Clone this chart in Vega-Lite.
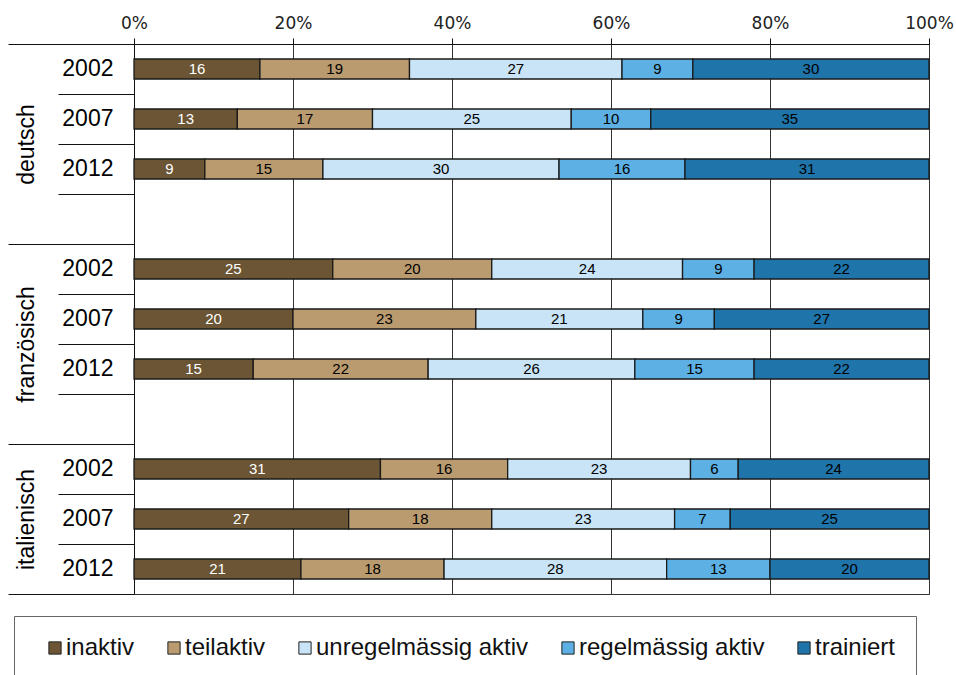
{
  "$schema": "https://vega.github.io/schema/vega-lite/v6.json",
  "width": 795,
  "height": 550,
  "autosize": {"type": "none"},
  "padding": {"left": 134, "top": 44, "right": 27, "bottom": 81},
  "background": "white",
  "config": {
    "view": {"stroke": "#333", "strokeWidth": 1},
    "font": "Liberation Sans"
  },
  "data": {
    "values": [
      {"sprachregion": "deutsch", "jahr": "2002", "kategorie": "inaktiv", "wert": 16},
      {"sprachregion": "deutsch", "jahr": "2002", "kategorie": "teilaktiv", "wert": 19},
      {"sprachregion": "deutsch", "jahr": "2002", "kategorie": "unregelmässig aktiv", "wert": 27},
      {"sprachregion": "deutsch", "jahr": "2002", "kategorie": "regelmässig aktiv", "wert": 9},
      {"sprachregion": "deutsch", "jahr": "2002", "kategorie": "trainiert", "wert": 30},
      {"sprachregion": "deutsch", "jahr": "2007", "kategorie": "inaktiv", "wert": 13},
      {"sprachregion": "deutsch", "jahr": "2007", "kategorie": "teilaktiv", "wert": 17},
      {"sprachregion": "deutsch", "jahr": "2007", "kategorie": "unregelmässig aktiv", "wert": 25},
      {"sprachregion": "deutsch", "jahr": "2007", "kategorie": "regelmässig aktiv", "wert": 10},
      {"sprachregion": "deutsch", "jahr": "2007", "kategorie": "trainiert", "wert": 35},
      {"sprachregion": "deutsch", "jahr": "2012", "kategorie": "inaktiv", "wert": 9},
      {"sprachregion": "deutsch", "jahr": "2012", "kategorie": "teilaktiv", "wert": 15},
      {"sprachregion": "deutsch", "jahr": "2012", "kategorie": "unregelmässig aktiv", "wert": 30},
      {"sprachregion": "deutsch", "jahr": "2012", "kategorie": "regelmässig aktiv", "wert": 16},
      {"sprachregion": "deutsch", "jahr": "2012", "kategorie": "trainiert", "wert": 31},
      {"sprachregion": "französisch", "jahr": "2002", "kategorie": "inaktiv", "wert": 25},
      {"sprachregion": "französisch", "jahr": "2002", "kategorie": "teilaktiv", "wert": 20},
      {"sprachregion": "französisch", "jahr": "2002", "kategorie": "unregelmässig aktiv", "wert": 24},
      {"sprachregion": "französisch", "jahr": "2002", "kategorie": "regelmässig aktiv", "wert": 9},
      {"sprachregion": "französisch", "jahr": "2002", "kategorie": "trainiert", "wert": 22},
      {"sprachregion": "französisch", "jahr": "2007", "kategorie": "inaktiv", "wert": 20},
      {"sprachregion": "französisch", "jahr": "2007", "kategorie": "teilaktiv", "wert": 23},
      {"sprachregion": "französisch", "jahr": "2007", "kategorie": "unregelmässig aktiv", "wert": 21},
      {"sprachregion": "französisch", "jahr": "2007", "kategorie": "regelmässig aktiv", "wert": 9},
      {"sprachregion": "französisch", "jahr": "2007", "kategorie": "trainiert", "wert": 27},
      {"sprachregion": "französisch", "jahr": "2012", "kategorie": "inaktiv", "wert": 15},
      {"sprachregion": "französisch", "jahr": "2012", "kategorie": "teilaktiv", "wert": 22},
      {"sprachregion": "französisch", "jahr": "2012", "kategorie": "unregelmässig aktiv", "wert": 26},
      {"sprachregion": "französisch", "jahr": "2012", "kategorie": "regelmässig aktiv", "wert": 15},
      {"sprachregion": "französisch", "jahr": "2012", "kategorie": "trainiert", "wert": 22},
      {"sprachregion": "italienisch", "jahr": "2002", "kategorie": "inaktiv", "wert": 31},
      {"sprachregion": "italienisch", "jahr": "2002", "kategorie": "teilaktiv", "wert": 16},
      {"sprachregion": "italienisch", "jahr": "2002", "kategorie": "unregelmässig aktiv", "wert": 23},
      {"sprachregion": "italienisch", "jahr": "2002", "kategorie": "regelmässig aktiv", "wert": 6},
      {"sprachregion": "italienisch", "jahr": "2002", "kategorie": "trainiert", "wert": 24},
      {"sprachregion": "italienisch", "jahr": "2007", "kategorie": "inaktiv", "wert": 27},
      {"sprachregion": "italienisch", "jahr": "2007", "kategorie": "teilaktiv", "wert": 18},
      {"sprachregion": "italienisch", "jahr": "2007", "kategorie": "unregelmässig aktiv", "wert": 23},
      {"sprachregion": "italienisch", "jahr": "2007", "kategorie": "regelmässig aktiv", "wert": 7},
      {"sprachregion": "italienisch", "jahr": "2007", "kategorie": "trainiert", "wert": 25},
      {"sprachregion": "italienisch", "jahr": "2012", "kategorie": "inaktiv", "wert": 21},
      {"sprachregion": "italienisch", "jahr": "2012", "kategorie": "teilaktiv", "wert": 18},
      {"sprachregion": "italienisch", "jahr": "2012", "kategorie": "unregelmässig aktiv", "wert": 28},
      {"sprachregion": "italienisch", "jahr": "2012", "kategorie": "regelmässig aktiv", "wert": 13},
      {"sprachregion": "italienisch", "jahr": "2012", "kategorie": "trainiert", "wert": 20}
    ]
  },
  "transform": [
    {"calculate": "datum.sprachregion + ' ' + datum.jahr", "as": "zeile"},
    {"calculate": "indexof(['inaktiv', 'teilaktiv', 'unregelmässig aktiv', 'regelmässig aktiv', 'trainiert'], datum.kategorie)", "as": "rang"},
    {"stack": "wert", "groupby": ["zeile"], "sort": [{"field": "rang", "order": "ascending"}], "offset": "normalize", "as": ["x0", "x1"]},
    {"calculate": "(datum.x0 + datum.x1) / 2", "as": "xm"}
  ],
  "layer": [
    {
      "layer": [
        {
          "mark": {"type": "bar", "size": 20, "stroke": "#1a1a1a", "strokeWidth": 1.3},
          "encoding": {
            "y": {
              "field": "zeile",
              "type": "nominal",
              "scale": {
                "type": "band",
                "padding": 0,
                "domain": ["deutsch 2002", "deutsch 2007", "deutsch 2012", "deutsch -",
                           "französisch 2002", "französisch 2007", "französisch 2012", "französisch -",
                           "italienisch 2002", "italienisch 2007", "italienisch 2012"]
              },
              "axis": {
                "orient": "left",
                "title": null,
                "ticks": false,
                "grid": false,
                "domainColor": "#111",
                "labelFont": "Liberation Sans",
                "labelFontSize": 23,
                "labelColor": "#000",
                "labelPadding": 21,
                "labelOverlap": false,
                "labelExpr": "indexof(datum.value, '-') >= 0 ? '' : slice(datum.value, -4)"
              }
            },
            "x": {
              "field": "x0",
              "type": "quantitative",
              "scale": {"domain": [0, 1], "nice": false},
              "axis": {
                "orient": "top",
                "title": null,
                "format": ".0%",
                "values": [0, 0.2, 0.4, 0.6, 0.8, 1],
                "grid": true,
                "gridColor": "#333",
                "tickColor": "#111",
                "tickSize": 6,
                "domainColor": "#111",
                "labelFont": "DejaVu Sans",
                "labelFontSize": 17,
                "labelColor": "#222",
                "labelPadding": 6,
                "labelFlush": false,
                "labelOverlap": false
              }
            },
            "x2": {"field": "x1"},
            "color": {
              "field": "kategorie",
              "type": "nominal",
              "scale": {
                "domain": ["inaktiv", "teilaktiv", "unregelmässig aktiv", "regelmässig aktiv", "trainiert"],
                "range": ["#6b5535", "#b99b6f", "#c9e4f6", "#5db0e3", "#1f74aa"]
              },
              "legend": {
                "title": null,
                "orient": "none",
                "legendX": -120,
                "legendY": 572,
                "direction": "horizontal",
                "strokeColor": "#666",
                "fillColor": "white",
                "padding": 20,
                "symbolType": "square",
                "symbolSize": 150,
                "symbolStrokeColor": "#222",
                "symbolStrokeWidth": 1,
                "symbolOffset": 9,
                "labelFont": "Liberation Sans",
                "labelFontSize": 24,
                "labelColor": "#111",
                "labelOffset": -1,
                "labelLimit": 400,
                "columnPadding": 18
              }
            }
          }
        },
        {
          "mark": {"type": "text", "font": "Liberation Sans", "fontSize": 15},
          "encoding": {
            "y": {"field": "zeile", "type": "nominal"},
            "x": {"field": "xm", "type": "quantitative"},
            "text": {"field": "wert"},
            "color": {"condition": {"test": "datum.kategorie === 'inaktiv'", "value": "white"}, "value": "black"}
          }
        }
      ]
    },
    {
      "mark": {"type": "point", "opacity": 0},
      "encoding": {
        "y": {
          "field": "zeile",
          "type": "nominal",
          "scale": {
            "type": "band",
            "padding": 0,
            "domain": ["deutsch 2002", "deutsch 2007", "deutsch 2012", "deutsch -",
                       "französisch 2002", "französisch 2007", "französisch 2012", "französisch -",
                       "italienisch 2002", "italienisch 2007", "italienisch 2012"]
          },
          "axis": {
            "orient": "left",
            "title": null,
            "domain": false,
            "grid": false,
            "tickBand": "extent",
            "tickColor": "#111",
            "tickWidth": 1,
            "tickSize": {
              "condition": {
                "test": "datum.index < 0 || datum.value === 'deutsch -' || datum.value === 'französisch -' || datum.value === 'italienisch 2012'",
                "value": 126
              },
              "value": 76
            },
            "labelExpr": "datum.value === 'deutsch 2007' ? 'deutsch' : datum.value === 'französisch 2007' ? 'französisch' : datum.value === 'italienisch 2007' ? 'italienisch' : ''",
            "labelAngle": 270,
            "labelAlign": "center",
            "labelBaseline": "alphabetic",
            "labelPadding": 25,
            "labelOffset": {"condition": {"test": "datum.value === 'italienisch 2007'", "value": 0}, "value": 25},
            "labelFont": "Liberation Sans",
            "labelFontSize": 23,
            "labelColor": "#000",
            "labelOverlap": false
          }
        }
      }
    }
  ],
  "resolve": {"scale": {"y": "independent"}}
}
